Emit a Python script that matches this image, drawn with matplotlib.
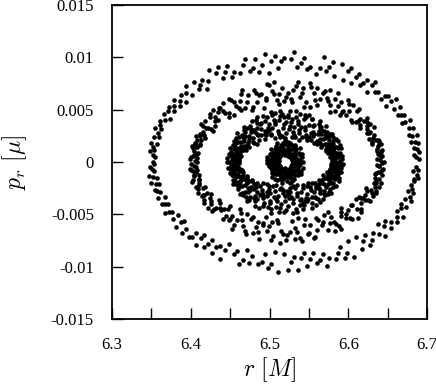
import numpy as np
import matplotlib
matplotlib.use("Agg")
import matplotlib.pyplot as plt

plt.rcParams['font.family'] = ['Liberation Serif', 'DejaVu Serif']
plt.rcParams['mathtext.fontset'] = 'cm'

# Poincare section, one band per torus
# r centre, inner/outer half-width in r, inner/outer half-height in p_r, number of crossings
ring_names = ['outer', 'second', 'third', 'core']
ring_r0 = [6.519, 6.522, 6.520, 6.520]
ring_a_in = [0.164, 0.114, 0.058, 0.008]
ring_a_out = [0.173, 0.124, 0.074, 0.024]
ring_b_in = [0.0086, 0.0053, 0.0022, 0.0006]
ring_b_out = [0.0106, 0.0078, 0.0050, 0.0021]
ring_n = [230, 320, 450, 160]
ring_start = [1, 400, 900, 1500]

xticks = [6.3, 6.4, 6.5, 6.6, 6.7]
xticklabels = ['6.3', '6.4', '6.5', '6.6', '6.7']
yticks = [0.015, 0.01, 0.005, 0, -0.005, -0.01, -0.015]
yticklabels = ['0.015', '0.01', '0.005', '0', '-0.005', '-0.01', '-0.015']


def radical_inverse(k, base):
    out = np.zeros(len(k))
    f = 1.0 / base
    k = k.copy()
    while np.any(k > 0):
        out += f * (k % base)
        k //= base
        f /= base
    return out


def crossings(r0, a_in, a_out, b_in, b_out, n, start):
    # spread the crossings evenly over the band (Halton sequence, bases 2 and 3)
    k = np.arange(start, start + n)
    theta = 2 * np.pi * radical_inverse(k, 2)
    t = radical_inverse(k, 3)
    a = a_in + t * (a_out - a_in)
    b = b_in + t * (b_out - b_in)
    return r0 + a * np.cos(theta), b * np.sin(theta)


fig = plt.figure(figsize=(4.36, 3.86), dpi=100)
ax = fig.add_axes([0.2569, 0.1736, 0.7225, 0.8134])

for i in range(len(ring_names)):
    r, pr = crossings(ring_r0[i], ring_a_in[i], ring_a_out[i],
                      ring_b_in[i], ring_b_out[i], ring_n[i], ring_start[i])
    ax.scatter(r, pr, s=11, c='black', linewidths=0)

ax.set_xlim(6.3, 6.7)
ax.set_ylim(-0.015, 0.015)
ax.set_xticks(xticks)
ax.set_xticklabels(xticklabels)
ax.set_xticks(np.arange(6.35, 6.7, 0.1), minor=True)
ax.set_yticks(yticks)
ax.set_yticklabels(yticklabels)

ax.tick_params(which='both', direction='in', length=8, width=1,
               top=False, right=False, labelsize=12, pad=13)
for sp in ax.spines.values():
    sp.set_linewidth(1.3)

ax.set_xlabel(r'$r\ [M]$', fontsize=17)
ax.set_ylabel(r'$p_r\ [\mu]$', fontsize=17)
ax.xaxis.set_label_coords(0.5, -0.115)
ax.yaxis.set_label_coords(-0.265, 0.5)

fig.savefig('out.png', dpi=100)
